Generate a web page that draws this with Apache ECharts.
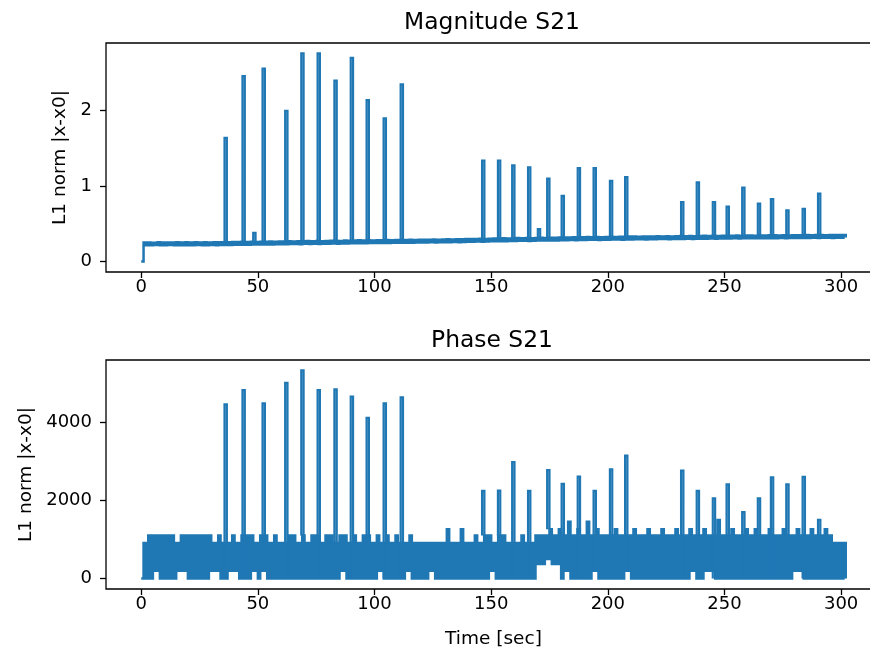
<!DOCTYPE html>
<html>
<head>
<meta charset="utf-8">
<script src="https://cdn.jsdelivr.net/npm/echarts@6/dist/echarts.min.js"></script>
<style>
html,body{margin:0;padding:0;background:#fff;}
#chart{width:870px;height:652px;}
</style>
</head>
<body>
<div id="chart"></div>
<script>
// ---- tick labels ----
const xTicks = [0, 50, 100, 150, 200, 250, 300];
const magTicks = [0, 1, 2];
const phaseTicks = [0, 2000, 4000];

// ---- magnitude S21: baseline samples, one per second (t = 0 .. 302) ----
const magBase = [
  0, 0.252, 0.218, 0.254, 0.216, 0.251, 0.219, 0.255, 0.217, 0.253,
  0.216, 0.254, 0.219, 0.252, 0.215, 0.256, 0.218, 0.253, 0.217, 0.255,
  0.218, 0.254, 0.216, 0.257, 0.219, 0.253, 0.217, 0.256, 0.218, 0.254,
  0.220, 0.257, 0.218, 0.255, 0.221, 0.258, 0.219, 0.256, 0.220, 0.259,
  0.223, 0.260, 0.222, 0.262, 0.224, 0.259, 0.223, 0.263, 0.225, 0.261,
  0.226, 0.264, 0.227, 0.262, 0.228, 0.266, 0.226, 0.263, 0.229, 0.265,
  0.231, 0.268, 0.230, 0.270, 0.232, 0.267, 0.233, 0.271, 0.231, 0.269,
  0.235, 0.272, 0.234, 0.270, 0.236, 0.273, 0.233, 0.271, 0.237, 0.274,
  0.238, 0.275, 0.239, 0.277, 0.237, 0.274, 0.240, 0.278, 0.239, 0.276,
  0.243, 0.280, 0.242, 0.282, 0.244, 0.279, 0.243, 0.283, 0.245, 0.281,
  0.246, 0.284, 0.247, 0.282, 0.248, 0.286, 0.246, 0.283, 0.249, 0.285,
  0.249, 0.287, 0.250, 0.285, 0.251, 0.288, 0.249, 0.286, 0.252, 0.289,
  0.253, 0.291, 0.254, 0.289, 0.255, 0.292, 0.253, 0.290, 0.256, 0.293,
  0.257, 0.296, 0.258, 0.294, 0.260, 0.297, 0.257, 0.295, 0.261, 0.298,
  0.263, 0.301, 0.264, 0.299, 0.265, 0.302, 0.263, 0.300, 0.266, 0.303,
  0.269, 0.307, 0.270, 0.305, 0.271, 0.308, 0.269, 0.306, 0.272, 0.309,
  0.274, 0.312, 0.275, 0.310, 0.276, 0.313, 0.274, 0.311, 0.277, 0.314,
  0.278, 0.316, 0.279, 0.314, 0.280, 0.317, 0.278, 0.315, 0.281, 0.318,
  0.283, 0.321, 0.284, 0.319, 0.285, 0.322, 0.283, 0.320, 0.286, 0.323,
  0.287, 0.325, 0.288, 0.323, 0.289, 0.326, 0.287, 0.324, 0.290, 0.327,
  0.291, 0.329, 0.292, 0.327, 0.293, 0.330, 0.291, 0.328, 0.294, 0.331,
  0.294, 0.332, 0.295, 0.330, 0.296, 0.333, 0.294, 0.331, 0.297, 0.334,
  0.297, 0.335, 0.298, 0.333, 0.299, 0.336, 0.297, 0.334, 0.300, 0.337,
  0.300, 0.338, 0.301, 0.336, 0.302, 0.339, 0.300, 0.337, 0.303, 0.340,
  0.303, 0.341, 0.304, 0.339, 0.305, 0.342, 0.303, 0.340, 0.306, 0.343,
  0.306, 0.344, 0.307, 0.342, 0.308, 0.345, 0.306, 0.343, 0.309, 0.346,
  0.308, 0.346, 0.309, 0.344, 0.310, 0.347, 0.308, 0.345, 0.311, 0.348,
  0.310, 0.348, 0.311, 0.346, 0.312, 0.349, 0.310, 0.347, 0.313, 0.350,
  0.312, 0.350, 0.313, 0.348, 0.314, 0.351, 0.312, 0.349, 0.315, 0.352,
  0.314, 0.352, 0.315, 0.350, 0.316, 0.353, 0.314, 0.351, 0.317, 0.354,
  0.316, 0.353, 0.318
];
const magSpikeT = [36.2, 43.9, 48.5, 52.5, 62.2, 69.1, 76.1, 83.3, 90.3, 97.1, 104.4, 111.7,
  146.6, 153.4, 159.5, 166.3, 170.5, 174.5, 180.7, 187.6, 194.4, 201.4, 207.9,
  231.9, 238.6, 245.5, 251.4, 258.1, 264.8, 270.4, 277.0, 284.0, 290.6];
const magSpikeV = [1.64, 2.46, 0.38, 2.56, 2.00, 2.76, 2.76, 2.40, 2.70, 2.14, 1.90, 2.35,
  1.34, 1.34, 1.275, 1.25, 0.43, 1.10, 0.87, 1.24, 1.24, 1.07, 1.12,
  0.79, 1.05, 0.79, 0.73, 0.98, 0.77, 0.83, 0.68, 0.70, 0.90];

// ---- phase S21: baseline samples, one per second (t = 0 .. 302) ----
const phaseBase = [
  0, 910, 0, 1100, 0, 1100, 200, 1100, 0, 1100,
  0, 1100, 0, 1100, 0, 910, 200, 1100, 200, 1100,
  0, 1100, 0, 1100, 0, 1100, 0, 1100, 0, 1100,
  200, 910, 200, 1100, 0, 910, 0, 910, 200, 1100,
  200, 910, 0, 1100, 0, 1100, 0, 1100, 200, 910,
  0, 1100, 200, 1100, 0, 910, 0, 1100, 0, 910,
  0, 910, 0, 1100, 0, 1100, 0, 910, 0, 1100,
  0, 910, 0, 1100, 0, 1100, 0, 910, 0, 1100,
  0, 1100, 0, 910, 0, 1100, 200, 1100, 0, 910,
  0, 1100, 0, 910, 0, 1100, 0, 1100, 0, 910,
  0, 1100, 200, 910, 0, 1100, 0, 910, 0, 1100,
  0, 910, 0, 910, 200, 1100, 0, 910, 0, 910,
  0, 910, 0, 910, 200, 910, 0, 910, 0, 910,
  0, 1260, 0, 910, 0, 910, 0, 1260, 0, 910,
  0, 910, 0, 1100, 0, 910, 0, 1100, 0, 1100,
  200, 910, 0, 1100, 0, 1100, 0, 910, 0, 910,
  0, 910, 0, 1100, 0, 910, 0, 910, 0, 1100,
  370, 1100, 370, 1100, 500, 1260, 370, 1100, 370, 1260,
  0, 1100, 200, 1450, 0, 1100, 0, 1260, 0, 1100,
  0, 1450, 0, 1100, 200, 1260, 0, 1100, 0, 1100,
  0, 1100, 0, 1260, 0, 1100, 0, 1100, 200, 1100,
  0, 1260, 0, 1100, 0, 1100, 0, 1260, 0, 1100,
  0, 1100, 0, 1260, 0, 1100, 0, 1100, 0, 1260,
  0, 1100, 0, 1100, 0, 1260, 200, 1100, 0, 1100,
  0, 1260, 200, 1100, 200, 1100, 0, 1500, 0, 1100,
  0, 1100, 0, 1260, 0, 1100, 0, 1100, 0, 1260,
  0, 1100, 0, 1260, 0, 1100, 0, 1100, 0, 1260,
  0, 1100, 0, 1100, 0, 1260, 0, 1100, 0, 1100,
  200, 1260, 200, 1100, 0, 1100, 0, 1260, 0, 1100,
  0, 1100, 0, 1260, 0, 1100, 0, 910, 0, 910,
  0, 910, 0
];
const phaseSpikeT = [36.2, 43.9, 52.5, 62.2, 69.1, 76.1, 83.3, 90.3, 97.1, 104.4, 111.7,
  146.6, 153.4, 159.5, 166.3, 174.5, 180.7, 187.6, 194.4, 201.4, 207.9,
  231.9, 238.6, 245.5, 251.4, 258.1, 264.8, 270.4, 277.0, 284.0, 290.6];
const phaseSpikeV = [4450, 4820, 4480, 5000, 5320, 4820, 4835, 4650, 4110, 4480, 4630,
  2240, 2250, 2980, 2240, 2775, 2420, 2605, 2240, 2790, 3140,
  2760, 2240, 2050, 2410, 1700, 2050, 2590, 2410, 2600, 1500];

// ---- build tables for the library ----
// baseline: one reading per second
function basePairs(base) {
  return base.map((v, i) => [i, v]);
}
// spikes: each lasts one sample period (1 s) centred on its time, rising from the baseline
function spikePairs(base, spikeT, spikeV) {
  const out = [];
  spikeT.forEach((t, k) => {
    const lo = base[Math.round(t)];
    out.push([t - 0.5, lo], [t - 0.5, spikeV[k]], [t + 0.5, lo], null);
  });
  return out;
}

const FONT = 'DejaVu Sans';
const BLUE = '#1f77b4';
const TXT = '#000';
const plainNum = (v) => String(v);

function xAxisCfg(gridIndex, name) {
  return {
    type: 'value', gridIndex: gridIndex, min: -15.1, max: 317.1,
    axisLine: { show: false, onZero: false },
    splitLine: { show: false },
    axisTick: { show: true, inside: false, length: 6, customValues: xTicks,
      lineStyle: { color: '#000', width: 1.3 } },
    axisLabel: { customValues: xTicks, formatter: plainNum, color: TXT, fontSize: 18, fontFamily: FONT, margin: 6 },
    name: name, nameLocation: 'middle', nameGap: 41,
    nameTextStyle: { color: TXT, fontSize: 18.5, fontFamily: FONT }
  };
}
function yAxisCfg(gridIndex, min, max, ticks, gap) {
  return {
    type: 'value', gridIndex: gridIndex, min: min, max: max,
    axisLine: { show: false, onZero: false },
    splitLine: { show: false },
    axisTick: { show: true, inside: false, length: 6, customValues: ticks,
      lineStyle: { color: '#000', width: 1.3 } },
    axisLabel: { customValues: ticks, formatter: plainNum, color: TXT, fontSize: 18, fontFamily: FONT, margin: 14 },
    name: 'L1 norm |x-x0|', nameLocation: 'middle', nameRotate: 90, nameGap: gap,
    nameTextStyle: { color: TXT, fontSize: 18.5, fontFamily: FONT }
  };
}
function lineSeries(idx, data, width) {
  return {
    type: 'line', xAxisIndex: idx, yAxisIndex: idx, data: data,
    step: 'end', showSymbol: false, symbol: 'none', silent: true,
    animation: false, connectNulls: false,
    lineStyle: { color: BLUE, width: width, join: 'miter', cap: 'butt' }
  };
}

const chart = echarts.init(document.getElementById('chart'), null, { renderer: 'canvas' });
chart.setOption({
  backgroundColor: '#fff',
  animation: false,
  title: [
    { text: 'Magnitude S21', left: 492, top: 11, textAlign: 'center', padding: 0,
      textStyle: { fontSize: 23.4, fontWeight: 'normal', fontFamily: FONT, color: TXT } },
    { text: 'Phase S21', left: 492, top: 329, textAlign: 'center', padding: 0,
      textStyle: { fontSize: 23.4, fontWeight: 'normal', fontFamily: FONT, color: TXT } }
  ],
  grid: [
    { left: 106, top: 43, width: 775, height: 229, outerBoundsMode: 'none', containLabel: false,
      show: true, borderColor: '#000', borderWidth: 1.3, backgroundColor: 'transparent' },
    { left: 106, top: 360, width: 775, height: 229, outerBoundsMode: 'none', containLabel: false,
      show: true, borderColor: '#000', borderWidth: 1.3, backgroundColor: 'transparent' }
  ],
  xAxis: [ xAxisCfg(0, ''), xAxisCfg(1, 'Time [sec]') ],
  yAxis: [
    yAxisCfg(0, -0.138, 2.898, magTicks, 34),
    yAxisCfg(1, -266, 5586, phaseTicks, 67)
  ],
  series: [
    lineSeries(0, basePairs(magBase), 2.5),
    lineSeries(0, spikePairs(magBase, magSpikeT, magSpikeV), 2.2),
    lineSeries(1, basePairs(phaseBase), 2.5),
    lineSeries(1, spikePairs(phaseBase, phaseSpikeT, phaseSpikeV), 2.2)
  ]
});
</script>
</body>
</html>
